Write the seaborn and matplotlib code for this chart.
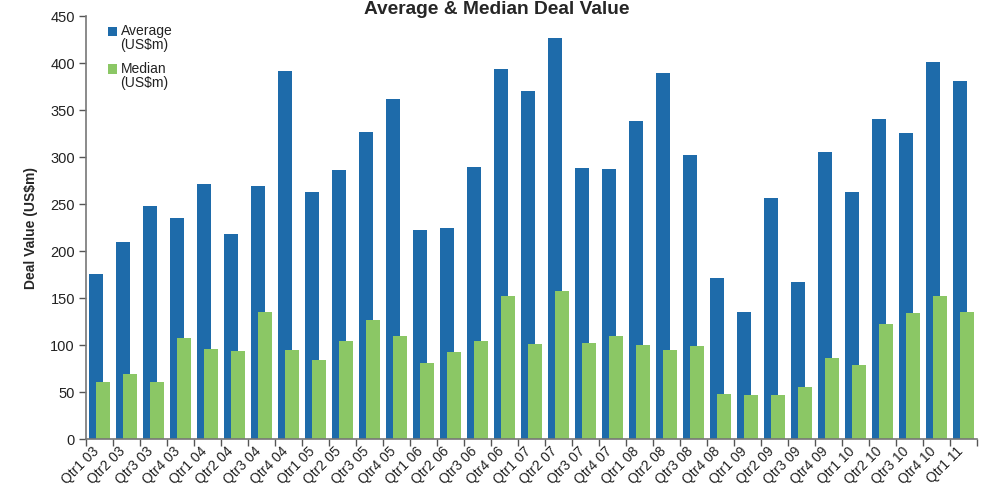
import numpy as np
import pandas as pd
import matplotlib
matplotlib.use("Agg")
import matplotlib.pyplot as plt
import matplotlib.transforms as mtransforms
import seaborn as sns
from matplotlib.patches import Patch, Rectangle
from matplotlib.legend_handler import HandlerPatch
from matplotlib.ticker import FixedLocator

quarters = ["Qtr1 03", "Qtr2 03", "Qtr3 03", "Qtr4 03",
            "Qtr1 04", "Qtr2 04", "Qtr3 04", "Qtr4 04",
            "Qtr1 05", "Qtr2 05", "Qtr3 05", "Qtr4 05",
            "Qtr1 06", "Qtr2 06", "Qtr3 06", "Qtr4 06",
            "Qtr1 07", "Qtr2 07", "Qtr3 07", "Qtr4 07",
            "Qtr1 08", "Qtr2 08", "Qtr3 08", "Qtr4 08",
            "Qtr1 09", "Qtr2 09", "Qtr3 09", "Qtr4 09",
            "Qtr1 10", "Qtr2 10", "Qtr3 10", "Qtr4 10",
            "Qtr1 11"]
average = [176, 210, 248, 235, 271, 218, 269, 392, 263, 286, 327, 362,
           222, 225, 289, 394, 370, 427, 288, 287, 338, 389, 302, 171,
           135, 256, 167, 305, 263, 340, 326, 401, 381]
median = [61, 69, 61, 107, 96, 94, 135, 95, 84, 104, 127, 110,
          81, 93, 104, 152, 101, 158, 102, 110, 100, 95, 99, 48,
          47, 47, 55, 86, 79, 122, 134, 152, 135]
series_names = ["Average\n(US$m)", "Median\n(US$m)"]
yticks = [0, 50, 100, 150, 200, 250, 300, 350, 400, 450]

BLUE = "#1E6BAA"
GREEN = "#8BC765"

sns.set_style("white")
plt.rcParams["font.family"] = ["Liberation Sans", "DejaVu Sans"]

fig = plt.figure(figsize=(9.84, 4.88), dpi=100)
ax = fig.add_axes([0.0874, 0.1004, 0.9056, 0.8666])

pos = np.arange(len(quarters))
df_a = pd.DataFrame({"x": pos - 0.13, "y": average})
df_m = pd.DataFrame({"x": pos + 0.13, "y": median})

sns.barplot(data=df_a, x="x", y="y", native_scale=True, width=0.52,
            color=BLUE, saturation=1, ax=ax, linewidth=0, edgecolor="none")
sns.barplot(data=df_m, x="x", y="y", native_scale=True, width=0.52,
            color=GREEN, saturation=1, ax=ax, linewidth=0, edgecolor="none")

ax.set_xlim(-0.5, len(quarters) - 0.5)
ax.set_ylim(0, 450)
ax.set_yticks(yticks)
ax.tick_params(axis="y", labelsize=10.5, length=5, width=1, color="#555555",
               direction="out", left=True, pad=3, labelcolor="#222222")

ax.set_xticks(pos)
ax.set_xticklabels(quarters, rotation=45, ha="right", rotation_mode="anchor",
                   fontsize=10, color="#222222")
ax.tick_params(axis="x", which="major", length=0, pad=4)
shift = mtransforms.ScaledTranslation(-8 / 100, 0, fig.dpi_scale_trans)
for lbl in ax.get_xticklabels():
    lbl.set_transform(lbl.get_transform() + shift)
ax.xaxis.set_minor_locator(FixedLocator(np.arange(len(quarters) + 1) - 0.5))
ax.tick_params(axis="x", which="minor", length=5, width=1, color="#555555",
               direction="out", bottom=True)

for s in ["top", "right"]:
    ax.spines[s].set_visible(False)
for s in ["left", "bottom"]:
    ax.spines[s].set_color("#777777")
    ax.spines[s].set_linewidth(1.2)

ax.set_xlabel("")
ax.set_ylabel("Deal Value (US$m)", fontsize=10, fontweight="bold", labelpad=9)
fig.text(0.505, 1 - 13.5 / 488, "Average & Median Deal Value", ha="center",
         va="baseline", fontsize=13.8, fontweight="bold")


class TopHandler(HandlerPatch):
    def create_artists(self, legend, orig_handle, xdescent, ydescent,
                       width, height, fontsize, trans):
        p = Rectangle(xy=(-xdescent, -ydescent + 0.55 * fontsize),
                      width=width, height=height)
        self.update_prop(p, orig_handle, legend)
        p.set_transform(trans)
        return [p]


handles = [Patch(facecolor=BLUE, edgecolor="none"),
           Patch(facecolor=GREEN, edgecolor="none")]
leg = ax.legend(handles, series_names, loc="upper left",
                bbox_to_anchor=(0.0185, 0.994), frameon=False, fontsize=10,
                handlelength=0.65, handleheight=0.65, handletextpad=0.25,
                labelspacing=0.7, borderaxespad=0.0,
                handler_map={Patch: TopHandler()})
for t in leg.get_texts():
    t.set_linespacing(1.0)
    t.set_color("#222222")

fig.savefig("out.png", dpi=100)
